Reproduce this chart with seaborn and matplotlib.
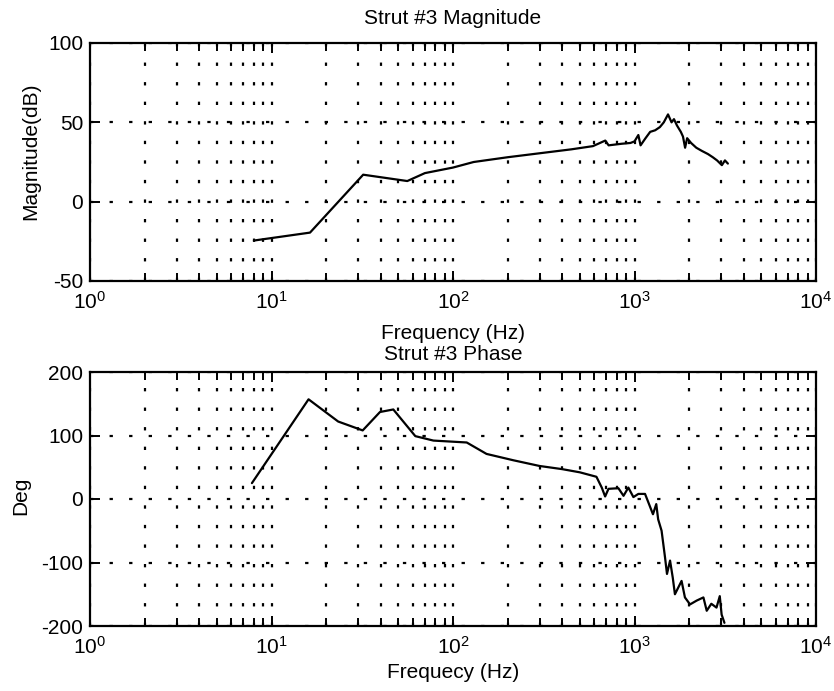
import numpy as np
import pandas as pd
import matplotlib
matplotlib.use("Agg")
import matplotlib.pyplot as plt
import matplotlib.ticker as mticker
import seaborn as sns

# ---- data ----
freq_mag = [8, 16.3, 32, 56, 70, 100, 130, 200, 300, 450, 590, 690, 720, 850,
            950, 1000, 1050, 1080, 1150, 1220, 1300, 1380, 1450, 1530, 1600,
            1650, 1714, 1800, 1850, 1900, 1950, 2050, 2190, 2350, 2540, 2700,
            2850, 3030, 3150, 3270]
mag_db = [-24.5, -19.5, 17, 13, 18, 21.5, 25, 28, 30.5, 33, 35, 38.5, 35.5,
          36.5, 37, 38, 42, 35.5, 40, 44, 45, 47, 50, 55, 50, 52, 48, 44, 41,
          34, 40, 37, 34, 32, 30, 28, 26, 23, 26, 24]

freq_ph = [7.8, 16, 23.3, 31.8, 39.6, 46.9, 62, 78, 119, 153, 215, 300, 400,
           500, 617, 660, 689, 719, 815, 870, 925, 986, 1050, 1143, 1191, 1264,
           1318, 1350, 1410, 1473, 1510, 1570, 1625, 1670, 1817, 1896, 2023,
           2200, 2397, 2500, 2650, 2830, 2950, 3020, 3130]
phase_deg = [25, 157, 122, 108, 137, 141, 99, 92, 89, 71, 61, 52, 47, 42, 35,
             18, 4, 16, 17, 5, 18, 3, 8, 8, -5, -24, -8, -32, -50, -92, -118,
             -97, -124, -150, -129, -155, -166, -160, -155, -176, -165, -171,
             -153, -182, -195]

mag_ticks = [-50, 0, 50, 100]
phase_ticks = [-200, -100, 0, 100, 200]

titles = ["Strut #3 Magnitude", "Strut #3 Phase"]
xlabels = ["Frequency (Hz)", "Frequecy (Hz)"]
ylabels = ["Magnitude(dB)", "Deg"]

# ---- style ----
sns.set_theme(style="white")
plt.rcParams["font.family"] = ["Liberation Sans", "DejaVu Sans"]
plt.rcParams["mathtext.fontset"] = "custom"
plt.rcParams["mathtext.rm"] = "Liberation Sans"
plt.rcParams["mathtext.it"] = "Liberation Sans"
plt.rcParams["mathtext.bf"] = "Liberation Sans"
plt.rcParams["axes.unicode_minus"] = False
plt.rcParams["text.color"] = "black"

FS = 15
W, H = 834, 691
fig = plt.figure(figsize=(W / 100, H / 100), dpi=100)
fig.patch.set_facecolor("white")

ax1 = fig.add_axes([90 / W, 1 - 281 / H, (816 - 90) / W, (281 - 43) / H])
ax2 = fig.add_axes([90 / W, 1 - 626 / H, (816 - 90) / W, (626 - 372) / H])

df_mag = pd.DataFrame({"f": freq_mag, "v": mag_db})
df_ph = pd.DataFrame({"f": freq_ph, "v": phase_deg})

dot = (0, (1.5, 7.3))
for ax, df, yt in [(ax1, df_mag, mag_ticks), (ax2, df_ph, phase_ticks)]:
    ax.set_xscale("log")
    ax.set_xlim(1, 1e4)
    ax.set_ylim(yt[0], yt[-1])
    ax.set_yticks(yt)
    ax.xaxis.set_major_locator(mticker.LogLocator(base=10, numticks=10))
    ax.xaxis.set_minor_locator(mticker.LogLocator(base=10, subs=np.arange(2, 10), numticks=20))
    ax.xaxis.set_minor_formatter(mticker.NullFormatter())
    ax.grid(True, which="major", axis="both", color="black", lw=1.6, linestyle=dot)
    ax.grid(True, which="minor", axis="x", color="black", lw=1.6, linestyle=dot)
    ax.set_axisbelow(True)
    sns.lineplot(data=df, x="f", y="v", ax=ax, color="black", lw=1.6,
                 estimator=None, sort=False)
    for s in ax.spines.values():
        s.set_visible(True)
        s.set_color("black")
        s.set_linewidth(1.6)
    ax.tick_params(which="both", direction="in", top=True, right=True,
                   bottom=True, left=True, color="black", labelsize=FS,
                   labelcolor="black")
    ax.tick_params(which="major", length=7, width=1.4)
    ax.tick_params(which="minor", length=6, width=1.4)
    ax.tick_params(axis="x", which="major", pad=7)
    ax.tick_params(axis="y", which="major", pad=5)
    ax.set_xlabel("")
    ax.set_ylabel("")

# texts
cx = 0.5 * (90 + 816) / W
fig.text(cx, 1 - 19 / H, titles[0], ha="center", va="center", fontsize=FS, color="black")
fig.text(cx, 1 - 334 / H, xlabels[0], ha="center", va="center", fontsize=FS, color="black")
fig.text(cx, 1 - 354 / H, titles[1], ha="center", va="center", fontsize=FS, color="black")
fig.text(cx, 1 - 673 / H, xlabels[1], ha="center", va="center", fontsize=FS, color="black")
fig.text(31 / W, 1 - 151 / H, ylabels[0], ha="center", va="center", rotation=90,
         fontsize=FS, color="black")
fig.text(21 / W, 1 - 496 / H, ylabels[1], ha="center", va="center", rotation=90,
         fontsize=FS, color="black")

fig.savefig("out.png", dpi=100, facecolor="white")
